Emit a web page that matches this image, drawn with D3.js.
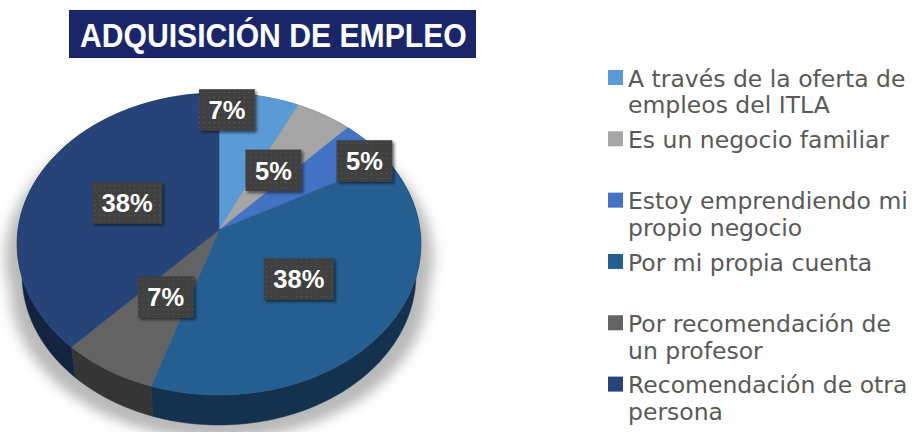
<!DOCTYPE html>
<html><head><meta charset="utf-8">
<script src="https://cdn.jsdelivr.net/npm/d3@7"></script>
<style>html,body{margin:0;padding:0;background:#fff;} svg{display:block}</style>
</head><body><svg id="chart" width="921" height="432"></svg>
<script>
// ---------- data ----------
const title = "ADQUISICIÓN DE EMPLEO";
const categories = [
  "A través de la oferta de empleos del ITLA",
  "Es un negocio familiar",
  "Estoy emprendiendo mi propio negocio",
  "Por mi propia cuenta",
  "Por recomendación de un profesor",
  "Recomendación de otra persona"
];
const values = [7, 5, 5, 38, 7, 38];
const labels = ["7%", "5%", "5%", "38%", "7%", "38%"];
const colors = ["#5B9BD5", "#A5A5A5", "#4472C4", "#255E91", "#636363", "#264478"];
// best-fit label adjustments (angle shift in degrees, radius fraction)
const labelAngleShift = [-9.8, 0, 5.3, 0, 0, 0];
const labelRadius = [0.867, 0.5, 0.896, 0.5, 0.5, 0.5];

// ---------- layout ----------
const W = 921, H = 432;
const svg = d3.select("#chart");
const defs = svg.append("defs");

// perspective camera for the 3D pie
const CAM = {cx: 219, cy: 230, f: 1447, d: 7.2, sin: 0.745, cos: 0.667, h: 0.239};
function proj(theta, r, z) {
  const x = r * Math.sin(theta), y = -r * Math.cos(theta);
  const depth = CAM.d - y * CAM.cos - z * CAM.sin;
  return [CAM.cx + CAM.f * x / depth, CAM.cy + CAM.f * (y * CAM.sin - z * CAM.cos) / depth];
}
function arcPts(a0, a1, z) {
  const n = Math.max(2, Math.ceil((a1 - a0) / (Math.PI / 180)));
  return d3.range(n + 1).map(i => proj(a0 + (a1 - a0) * i / n, 1, z));
}
const line = d3.line().curve(d3.curveLinear);

// filters & patterns
const blur = defs.append("filter").attr("id", "pshadow")
  .attr("x", "-20%").attr("y", "-20%").attr("width", "140%").attr("height", "140%");
blur.append("feGaussianBlur").attr("stdDeviation", 6);

const ds = defs.append("filter").attr("id", "lshadow")
  .attr("x", "-30%").attr("y", "-30%").attr("width", "160%").attr("height", "160%");
ds.append("feGaussianBlur").attr("in", "SourceAlpha").attr("stdDeviation", 1.8).attr("result", "b");
ds.append("feOffset").attr("in", "b").attr("dx", 2).attr("dy", 2).attr("result", "o");
ds.append("feComponentTransfer").attr("in", "o").attr("result", "o2")
  .append("feFuncA").attr("type", "linear").attr("slope", 0.55);
const mg = ds.append("feMerge");
mg.append("feMergeNode").attr("in", "o2");
mg.append("feMergeNode").attr("in", "SourceGraphic");

const pat = defs.append("pattern").attr("id", "dots").attr("patternUnits", "userSpaceOnUse")
  .attr("width", 5).attr("height", 5);
pat.append("rect").attr("width", 5).attr("height", 5).attr("fill", "#404040");
pat.append("rect").attr("x", 2).attr("y", 2).attr("width", 1).attr("height", 1).attr("fill", "#5e5e5e");

// ---------- title ----------
svg.append("rect").attr("x", 69).attr("y", 10).attr("width", 407).attr("height", 48).attr("fill", "#1a2669");
svg.append("text").attr("x", 80).attr("y", 46.7)
  .attr("font-family", "Liberation Sans, Arial, sans-serif").attr("font-weight", "bold")
  .attr("font-size", 32.5).attr("fill", "#fff")
  .attr("textLength", 386.7).attr("lengthAdjust", "spacingAndGlyphs")
  .text(title);

// ---------- pie ----------
const arcs = d3.pie().sort(null).value(d => d)(values);
const TAU = Math.PI * 2;

// shadow
const sh = svg.append("g").attr("filter", "url(#pshadow)")
  .attr("transform", `translate(${CAM.cx},${CAM.cy + 14}) scale(1.06,1.0) translate(${-CAM.cx},${-CAM.cy})`);
sh.append("path").attr("d", line(arcPts(0, TAU, 0)) + "Z").attr("fill", "#b9b9b9");
sh.append("path").attr("d", line(arcPts(0, TAU, -CAM.h)) + "Z").attr("fill", "#b9b9b9");

// side walls (far first)
const walls = arcs.map((a, i) => ({a, i})).sort((p, q) =>
  Math.cos((q.a.startAngle + q.a.endAngle) / 2) - Math.cos((p.a.startAngle + p.a.endAngle) / 2));
svg.append("g").selectAll("path").data(walls).join("path")
  .attr("d", w => {
    const top = arcPts(w.a.startAngle, w.a.endAngle, 0);
    const bot = arcPts(w.a.startAngle, w.a.endAngle, -CAM.h).reverse();
    return line(top.concat(bot)) + "Z";
  })
  .attr("fill", w => d3.color(colors[w.i]).darker(1.75))
  .attr("stroke", w => d3.color(colors[w.i]).darker(1.75)).attr("stroke-width", 0.5);

// top faces
const c0 = proj(0, 0, 0);
svg.append("g").selectAll("path").data(arcs).join("path")
  .attr("d", a => line([c0].concat(arcPts(a.startAngle, a.endAngle, 0))) + "Z")
  .attr("fill", (a, i) => colors[i])
  .attr("stroke", (a, i) => colors[i]).attr("stroke-width", 0.5);

// data labels
const lg = svg.append("g").selectAll("g").data(arcs).join("g")
  .attr("transform", (a, i) => {
    const th = (a.startAngle + a.endAngle) / 2 + labelAngleShift[i] * Math.PI / 180;
    const p = proj(th, labelRadius[i], 0);
    return `translate(${p[0]},${p[1]})`;
  });
const lt = lg.append("text")
  .attr("text-anchor", "middle").attr("y", 9.3)
  .attr("font-family", "Liberation Sans, Arial, sans-serif").attr("font-weight", "bold")
  .attr("font-size", 25.5).attr("fill", "#fff")
  .text((a, i) => labels[i]);
lg.each(function() {
  const g = d3.select(this);
  const tw = g.select("text").node().getComputedTextLength();
  g.insert("rect", "text")
    .attr("x", -tw / 2 - 9.5).attr("y", -20.8)
    .attr("width", tw + 19).attr("height", 41.5)
    .attr("fill", "url(#dots)").attr("filter", "url(#lshadow)");
});

// ---------- legend ----------
const ly = d3.scaleLinear().domain([0, categories.length - 1]).range([86.7, 393.3]);
const legendFont = "DejaVu Sans, sans-serif";
const maxW = 293;
const leg = svg.append("g").selectAll("g").data(categories).join("g");
leg.append("rect").attr("x", 608).attr("y", (d, i) => ly(i) - 16.7)
  .attr("width", 15).attr("height", 15).attr("fill", (d, i) => colors[i]);
leg.each(function(d, i) {
  const t = d3.select(this).append("text")
    .attr("x", 628).attr("y", ly(i))
    .attr("font-family", legendFont).attr("font-size", 23.5).attr("fill", "#595959");
  const words = d.split(" ");
  let lineWords = [];
  let ts = t.append("tspan").attr("x", 628).attr("dy", 0);
  words.forEach(w => {
    lineWords.push(w);
    ts.text(lineWords.join(" "));
    if (ts.node().getComputedTextLength() > maxW && lineWords.length > 1) {
      lineWords.pop();
      ts.text(lineWords.join(" "));
      lineWords = [w];
      ts = t.append("tspan").attr("x", 628).attr("dy", 26.7).text(w);
    }
  });
});
</script>
</body></html>
